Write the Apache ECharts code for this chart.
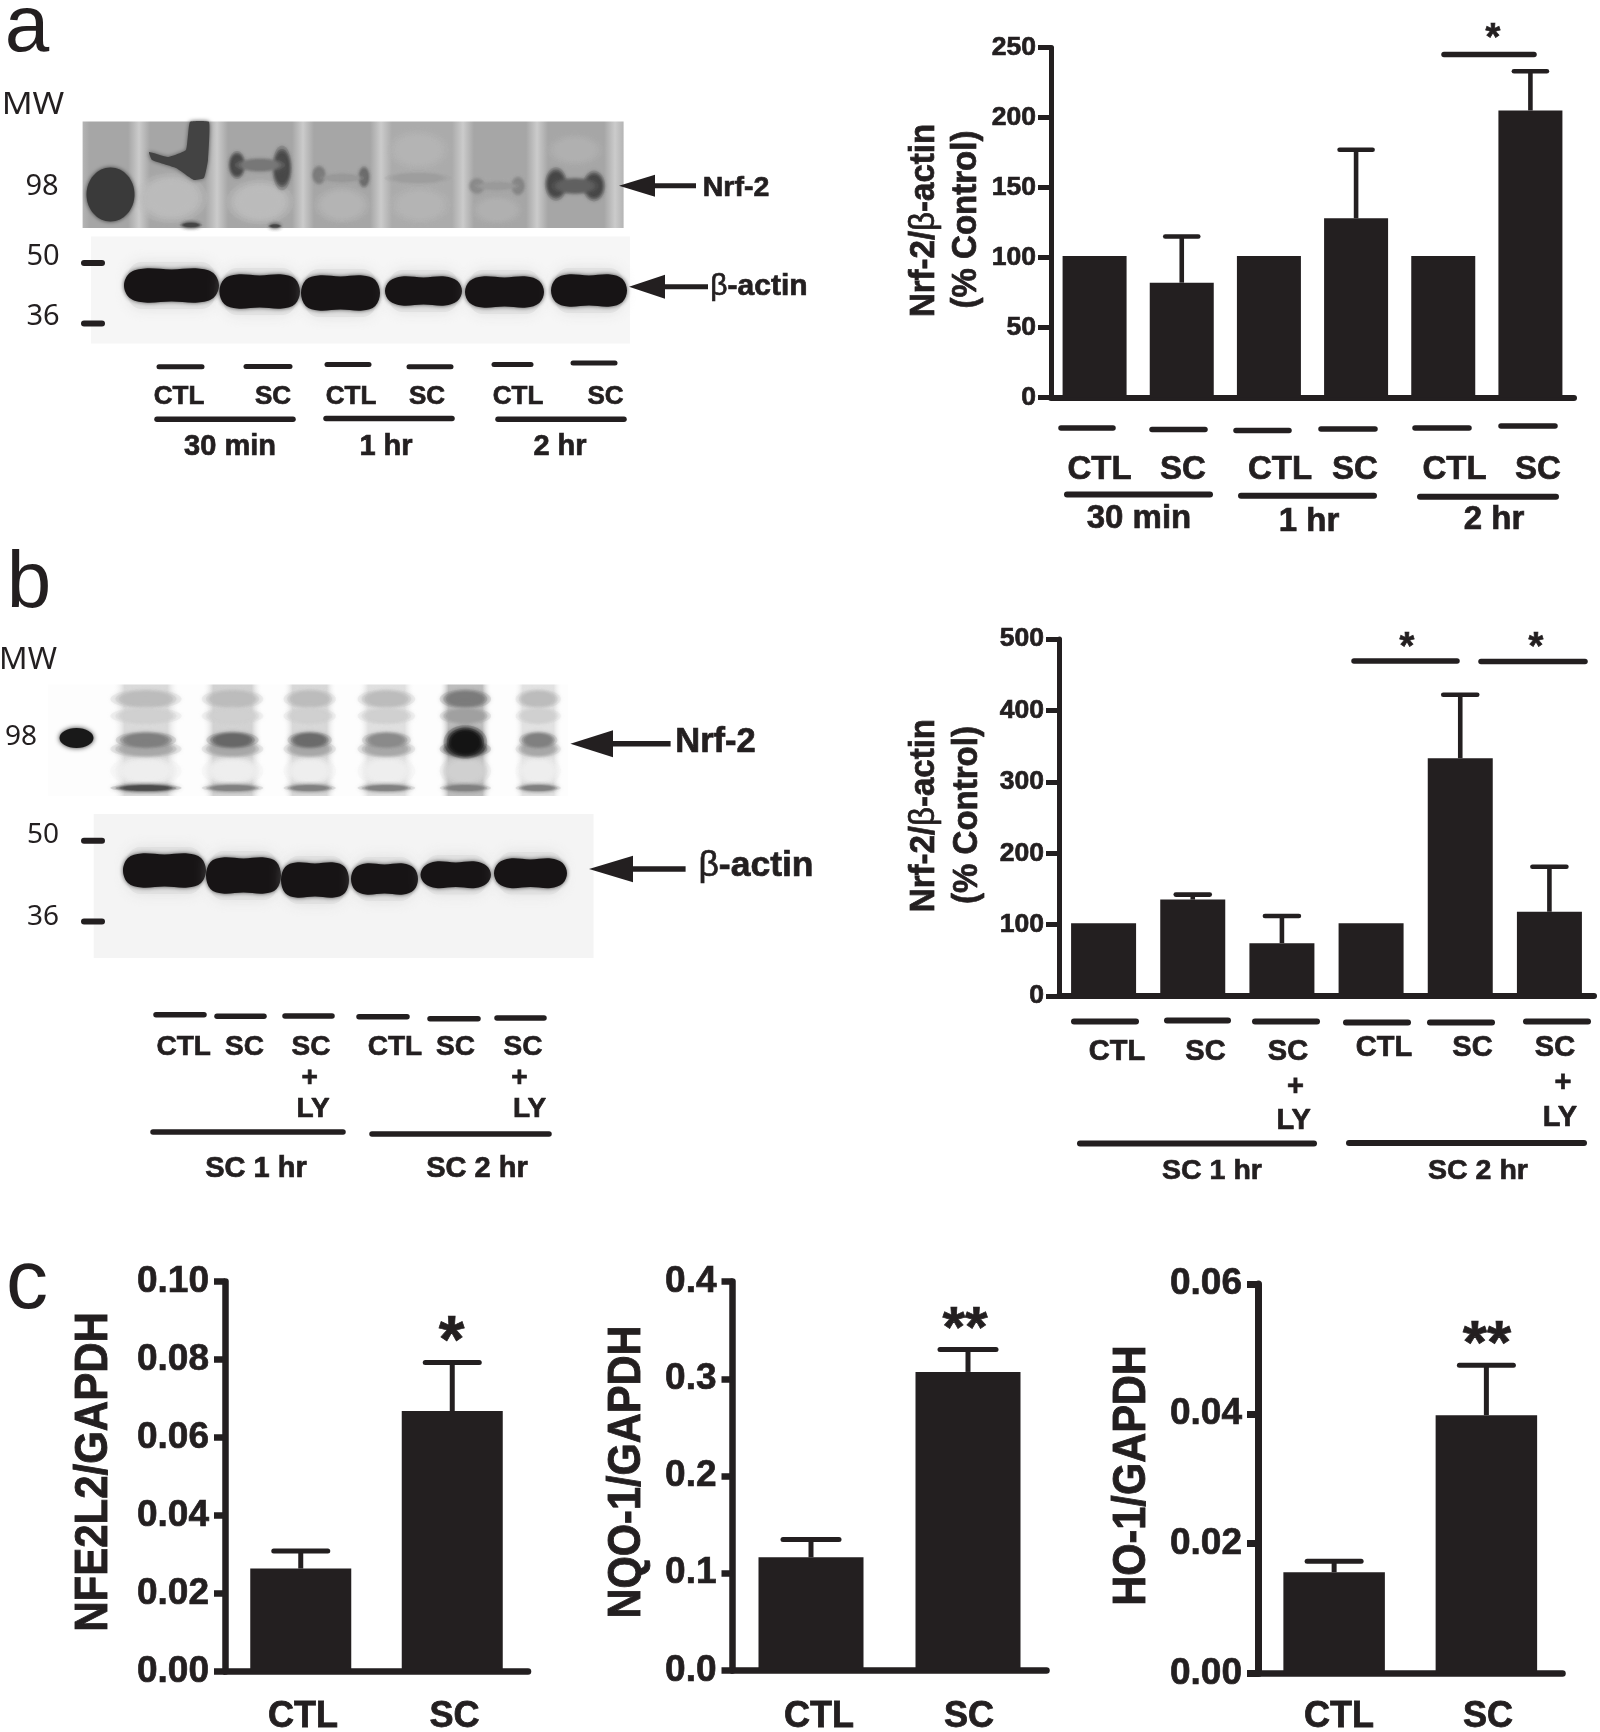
<!DOCTYPE html>
<html><head><meta charset="utf-8">
<style>html,body{margin:0;padding:0;background:#fff}#main{width:1600px;height:1732px}</style>
<script src="https://cdn.jsdelivr.net/npm/echarts@6/dist/echarts.min.js"></script>
</head><body><div id="main"></div>
<script>
// ---------- data ----------
const aCategories = ['CTL','SC','CTL','SC','CTL','SC'];
const aValues = [101,82,101,128,101,205];
const aUpper  = [null,115,null,177,null,233];
const aGroups = ['30 min','1 hr','2 hr'];
const bCategories = ['CTL','SC','SC+LY','CTL','SC','SC+LY'];
const bValues = [102,135,74,102,333,118];
const bUpper  = [null,142,112,null,422,181];
const bGroups = ['SC 1 hr','SC 2 hr'];
const cCategories = ['CTL','SC'];
const c1Values = [0.0264,0.0668];
const c1Upper  = [0.0309,0.0792];
const c2Values = [0.1164,0.307];
const c2Upper  = [0.1346,0.330];
const c3Values = [0.0156,0.0398];
const c3Upper  = [0.0173,0.0475];

// ---------- appearance ----------
const INK = '#231f20';
const BOLD = '"Liberation Sans", Arial, sans-serif';
const chart = echarts.init(document.getElementById('main'), null, {renderer:'canvas', width:1600, height:1732});

const panels = [
 {cats:aCategories, vals:aValues, up:aUpper, max:250, step:50, dec:0, left:1051, top:47.5, w:523, h:350, barW:64, capW:33, stem:4.6, axisW:5, xW:6, tickLen:13, xTick:11, xTickW:4, font:26.5, labelMargin:15},
 {cats:bCategories, vals:bValues, up:bUpper, max:500, step:100, dec:0, left:1059, top:639, w:535, h:357, barW:65, capW:34, stem:4.6, axisW:5, xW:6, tickLen:13, xTick:11, xTickW:4, font:26.5, labelMargin:15},
 {cats:cCategories, vals:c1Values, up:c1Upper, max:0.10, step:0.02, dec:2, left:225, top:1281.5, w:303, h:390, barW:101, capW:54, stem:5, axisW:6.5, xW:6.5, tickLen:11, xTick:10, xTickW:7, font:37, labelMargin:16},
 {cats:cCategories, vals:c2Values, up:c2Upper, max:0.4, step:0.1, dec:1, left:732.5, top:1281.5, w:314, h:389, barW:105, capW:56, stem:5, axisW:6.5, xW:6.5, tickLen:11, xTick:10, xTickW:7, font:37, labelMargin:16},
 {cats:cCategories, vals:c3Values, up:c3Upper, max:0.06, step:0.02, dec:2, left:1258, top:1284, w:304.5, h:389.5, barW:101.5, capW:54, stem:5, axisW:7, xW:6.5, tickLen:11, xTick:10, xTickW:7, font:37, labelMargin:16}
];

const grids=[],xAxes=[],yAxes=[],series=[];
panels.forEach((p,i)=>{
  grids.push({left:p.left,top:p.top,width:p.w,height:p.h,containLabel:false,outerBoundsMode:'none'});
  xAxes.push({gridIndex:i,type:'category',data:p.cats.map((c,k)=>k+':'+c),
    axisLine:{lineStyle:{color:INK,width:p.xW}},
    axisTick:{alignWithLabel:true,length:p.xTick,lineStyle:{color:INK,width:p.xTickW}},
    axisLabel:{show:false},
    splitLine:{show:false}});
  yAxes.push({gridIndex:i,type:'value',min:0,max:p.max,interval:p.step,
    axisLine:{show:true,lineStyle:{color:INK,width:p.axisW}},
    axisTick:{show:true,length:p.tickLen,lineStyle:{color:INK,width:p.axisW}},
    axisLabel:{margin:p.labelMargin,color:INK,fontFamily:BOLD,fontWeight:'bold',fontSize:p.font,textBorderColor:INK,textBorderWidth:.7,formatter:v=>Number(v).toFixed(p.dec)},
    splitLine:{show:false}});
  series.push({type:'bar',xAxisIndex:i,yAxisIndex:i,data:p.vals,barWidth:p.barW,itemStyle:{color:INK},silent:true,animation:false});
  series.push({type:'custom',xAxisIndex:i,yAxisIndex:i,silent:true,animation:false,clip:false,z:1,
    data:p.up.map((u,k)=>[k,p.vals[k],u]).filter(r=>r[2]!=null),
    encode:{x:0,y:[1,2]},
    renderItem:(params,api)=>{
      const a=api.coord([api.value(0),api.value(1)]), b=api.coord([api.value(0),api.value(2)]);
      const st={stroke:INK,lineWidth:p.stem}, cp={stroke:INK,lineWidth:p.stem,lineCap:'round'};
      return {type:'group',children:[
        {type:'line',shape:{x1:a[0],y1:a[1],x2:b[0],y2:b[1]},style:st},
        {type:'line',shape:{x1:b[0]-p.capW/2,y1:b[1],x2:b[0]+p.capW/2,y2:b[1]},style:cp}]};
    }});
});

// ---------- helpers for annotation ----------
const g=[];
const boldFont=s=>`bold ${s}px ${BOLD}`;
function txt(text,x,y,size,o={}){
  const bold=!o.font;
  g.push({type:'text',x:x,y:o.rot?y:y+(o.dy==null?2:o.dy),rotation:o.rot||0,scaleX:o.sx||1,scaleY:o.sy||1,silent:true,
    style:{text,font:o.font||boldFont(size),fill:o.fill||INK,align:'center',verticalAlign:'middle',rich:o.rich,
      stroke:bold?INK:null,lineWidth:bold?(o.sw==null?.7:o.sw):0}});
}
function line(x1,x2,y,w){g.push({type:'line',silent:true,shape:{x1,y1:y,x2,y2:y},style:{stroke:INK,lineWidth:w,lineCap:'round'}});}
function soft(cx,cy,rx,ry,fill){
  [[1.4,.2],[1.2,.3],[1.05,.5],[.9,.8]].forEach(l=>{
    g.push({type:'ellipse',silent:true,shape:{cx,cy,rx:rx*l[0],ry:ry*l[0]},style:{fill,opacity:l[1],shadowBlur:4,shadowColor:fill}});
  });
}
function band(x1,x2,y1,y2){
  const w=x2-x1,ym=(y1+y2)/2;
  const pts=[[x1,ym],[x1+w*.06,y1+5],[x1+w*.22,y1+.5],[x1+w*.5,y1+1.5],[x2-w*.22,y1+.5],[x2-w*.06,y1+5],[x2,ym],[x2-w*.06,y2-5],[x2-w*.22,y2-.5],[x1+w*.5,y2-1.5],[x1+w*.22,y2-.5],[x1+w*.06,y2-5]];
  g.push({type:'rect',silent:true,shape:{x:x1+4,y:y1-6,width:w-8,height:y2-y1+12,r:14},style:{fill:'#d8d8d8',opacity:.5,shadowBlur:14,shadowColor:'#ccc'}});
  g.push({type:'polygon',silent:true,shape:{points:pts,smooth:.35},style:{fill:'#171415',shadowBlur:4,shadowColor:'rgba(40,40,40,.8)'}});
}
function arrow(tip,base,end,y,half,w){
  g.push({type:'polygon',silent:true,shape:{points:[[tip,y],[base,y-half],[base,y+half]]},style:{fill:INK}});
  g.push({type:'line',silent:true,shape:{x1:base-1,y1:y,x2:end,y2:y},style:{stroke:INK,lineWidth:w}});
}
function hGradient(x0,x1,pts){
  return {type:'linear',x:0,y:0,x2:1,y2:0,colorStops:pts.map(p=>({offset:(p[0]-x0)/(x1-x0),color:p[1]}))};
}
const sans='"Noto Sans", sans-serif';
const reg=s=>`${s}px ${sans}`;
const beta=(size)=>({a:{font:boldFont(size),fill:INK,stroke:INK,lineWidth:.7},b:{font:`${size}px ${BOLD}`,fill:INK}});
const betaText='{a|Nrf-2/}{b|β}{a|-actin}';

// panel letters
[['a',27,27,80],['b',29,583,80],['c',27,1283,84]].forEach(r=>txt(r[0],r[1],r[2],r[3],{font:`${r[3]}px ${BOLD}`}));

// ---------- blot a, Nrf-2 ----------
const D='#a6a6a6',L='#cbcbcb';
g.push({type:'rect',silent:true,shape:{x:82.6,y:121.4,width:541,height:106.6},style:{fill:hGradient(82.6,623.6,
 [[82.6,'#b4b4b4'],[90,D],[128,D],[139,L],[150,D],[205,D],[217,L],[228,D],[292,D],[303,L],[314,D],[370,D],[381,L],[392,'#ababab'],[452,'#ababab'],[463,L],[474,D],[526,D],[537,L],[548,D],[604,D],[615,L],[623.6,'#b4b4b4']])}});
soft(171,198,26,18,'#bcbcbc');soft(260,202,24,16,'#bcbcbc');soft(342,205,20,13,'#b4b4b4');soft(418,150,22,14,'#b4b4b4');soft(420,205,22,13,'#b4b4b4');
soft(497,210,18,10,'#b0b0b0');soft(575,150,20,11,'#b0b0b0');
// dark smear in lane 2: a column from the top edge with an arm running left
g.push({type:'polygon',silent:true,shape:{points:[[149,152],[168,157],[186,150],[190,122],[209,122],[208,160],[204,178],[194,180],[176,168],[152,160]],smooth:.12},style:{fill:'#434343',shadowBlur:4,shadowColor:'#555'}});
g.push({type:'ellipse',silent:true,shape:{cx:110.5,cy:194.5,rx:24,ry:27},style:{fill:'#3a3a3a',shadowBlur:4,shadowColor:'#3a3a3a'}});
soft(191,225,8,2,'#444');soft(275,226,5,1.5,'#444');
soft(237,165,6,10,'#474747');soft(282,168,7,16,'#474747');soft(260,165,18,5,'#777');
soft(319,175,5,7,'#7a7a7a');soft(364,177,4,8,'#6a6a6a');soft(342,178,16,3,'#989898');
soft(418,178,24,4,'#9e9e9e');
soft(477,186,6,6,'#8a8a8a');soft(518,186,5,7,'#848484');soft(497,186,16,3,'#9a9a9a');
soft(556,184,8,12,'#454545');soft(594,186,8,11,'#454545');soft(575,186,17,6,'#606060');

// ---------- blot a, actin ----------
g.push({type:'rect',silent:true,shape:{x:91,y:236.4,width:539,height:107.2},style:{fill:'#f6f6f6'}});
[[124,219,268,303],[219.4,300,274,309],[301,380,275,311],[385,462,276,306],[465,544,276,308],[551,627,274,307]].forEach(b=>band(...b));
[[263],[323.6]].forEach(r=>line(84,102,r[0],6));

// ---------- blot b, Nrf-2 ----------
g.push({type:'rect',silent:true,shape:{x:48,y:684.5,width:520,height:111.5},style:{fill:'#fdfdfd'}});
const lanes=[[112.5,179.4],[202.5,262.5],[283,336.4],[357.8,415],[439,491.7],[514,562.4]];
const laneDark=['#7e7e7e','#666','#6a6a6a','#8a8a8a','#111','#808080'];
const laneBack=['#dadada','#d2d2d2','#d8d8d8','#e0e0e0','#bdbdbd','#e2e2e2'];
lanes.forEach((l,i)=>{
  g.push({type:'rect',silent:true,shape:{x:l[0],y:684.5,width:l[1]-l[0],height:111.5},
    style:{fill:{type:'linear',x:0,y:0,x2:1,y2:0,colorStops:[{offset:0,color:'rgba(255,255,255,0)'},{offset:.18,color:laneBack[i]},{offset:.82,color:laneBack[i]},{offset:1,color:'rgba(255,255,255,0)'}]}}});
  const cx=(l[0]+l[1])/2, rx=(l[1]-l[0])/2-8;
  soft(cx,699,rx,7,i===4?'#7a7a7a':'#bcbcbc');
  soft(cx,716,rx,6,i===4?'#a0a0a0':'#cfcfcf');
  soft(cx,771,rx,11,i===4?'#d0d0d0':'#ededed');
  soft(cx,749,rx,6,i===4?'#555':'#a8a8a8');
  if(i===4){soft(cx,742,rx*.85,12,'#141414');}
  else{soft(cx,740,rx*.85,6,laneDark[i]);}
  soft(cx,788,rx,2.6,i===0?'#4a4a4a':'#808080');
});
g.push({type:'ellipse',silent:true,shape:{cx:76.5,cy:738,rx:17,ry:10},style:{fill:'#191919',shadowBlur:5,shadowColor:'#333'}});

// ---------- blot b, actin ----------
g.push({type:'rect',silent:true,shape:{x:93.7,y:814,width:499.8,height:144},style:{fill:'#f4f4f4'}});
[[123,206,853,888],[206,281,857,894],[281,349,862,898],[351,418,863,895],[420.5,491,861,888.6],[494,567,858,888.6]].forEach(b=>band(...b));
[[840.8],[921.6]].forEach(r=>line(84,102,r[0],6));

// ---------- western-blot labels, panel a ----------
const dashesALeft=[[157,204,366.8],[244,292,366.4],[325,371,364.6],[407,453,366.8],[492,533,364.6],[571,617,363]];
dashesALeft.forEach(d=>line(d[0]+2,d[1]-2,d[2],5));
const catALeftX=[179,273,351,427,518,605.5];
aCategories.forEach((c,i)=>txt(c,catALeftX[i],394.5,26));
[[157,293,419.3],[326,452,418.6],[498,624,419.3]].forEach(d=>line(d[0],d[1],d[2],5.5));
[[230,445],[386,445],[560,445]].forEach((p,i)=>txt(aGroups[i],p[0],p[1],29));
txt('MW',33,103,31,{font:reg(31),sx:1.1});
txt('98',42,185,29,{font:reg(29)});
txt('50',43,255,29,{font:reg(29)});
txt('36',43,315,29,{font:reg(29)});
arrow(619,655,696,185.7,11,5);
txt('Nrf-2',736,186,28.5);
arrow(629,665,708,286.8,12,5);
txt('{b|β}{a|-actin}',759,285,30,{rich:beta(30)});

// ---------- chart a annotations ----------
const dashesARight=[[1059,1115,428],[1150,1207,429.6],[1234,1291,430.4],[1319,1377,429],[1413,1471,428],[1499,1557,426]];
dashesARight.forEach(d=>line(d[0]+2,d[1]-2,d[2],5.5));
const catARightX=[1099.6,1183,1280,1355,1454.6,1538];
aCategories.forEach((c,i)=>txt(c,catARightX[i],467.5,33));
[[1067,1210,494.6],[1241,1374,495.7],[1420,1556,496.8]].forEach(d=>line(d[0],d[1],d[2],6));
[[1139,517],[1309,520],[1494,518]].forEach((p,i)=>txt(aGroups[i],p[0],p[1],33));
line(1444,1534,54.6,5.5);
txt('*',1493,38,38);
txt(betaText,924,220.5,33,{rot:Math.PI/2,rich:beta(33),sy:1.05});
txt('(% Control)',966,219.5,33,{rot:Math.PI/2,sy:1.05});

// ---------- western-blot labels, panel b ----------
[[154,206,1014.7],[215,266,1016.3],[283,334,1016],[357,409,1016.7],[428,480,1018.8],[495,546,1018]].forEach(d=>line(d[0]+2,d[1]-2,d[2],5.5));
const stack=(name,x,y,xP,yP,xL,yL,s)=>{
  if(name==='SC+LY'){txt('SC',x,y,s);txt('+',xP,yP,s);txt('LY',xL,yL,s);} else txt(name,x,y,s);
};
const bLeftPos=[[183.7,1045],[244.5,1045],[311,1045,309.6,1076,313,1107],[395,1045],[455.5,1045],[523,1045,519.5,1076,529.5,1107]];
bCategories.forEach((c,i)=>{const p=bLeftPos[i];stack(c,p[0],p[1],p[2],p[3],p[4],p[5],28);});
[[153,343,1132],[372,549,1134]].forEach(d=>line(d[0],d[1],d[2],5.5));
[[256,1167],[477,1167]].forEach((p,i)=>txt(bGroups[i],p[0],p[1],29));
txt('MW',28,658,30,{font:reg(30),sx:1.05});
txt('98',21,735,28,{font:reg(28)});
txt('50',43,833,28,{font:reg(28)});
txt('36',43,915,28,{font:reg(28)});
arrow(570.4,613,670.6,743.7,13.5,5.5);
txt('Nrf-2',715.5,740,34.5);
arrow(589,633,685.6,869,13.3,5.5);
txt('{b|β}{a|-actin}',756,864,35.5,{rich:beta(35.5)});

// ---------- chart b annotations ----------
[[1072,1138,1021.4],[1165,1230,1020.6],[1253,1319,1021.4],[1344,1410,1022.5],[1428,1494,1022.5],[1524,1590,1021.4]].forEach(d=>line(d[0]+2,d[1]-2,d[2],6));
const bRightPos=[[1117,1049.7],[1205.5,1049.7],[1288,1049.7,1295.5,1085,1293.7,1118.6],[1384,1046],[1472.5,1046],[1555,1046,1563,1081.4,1560,1115.5]];
bCategories.forEach((c,i)=>{const p=bRightPos[i];stack(c,p[0],p[1],p[2],p[3],p[4],p[5],29);});
[[1080,1314,1143.4],[1349,1584,1143]].forEach(d=>line(d[0],d[1],d[2],6));
[[1212,1169.5],[1478,1168.7]].forEach((p,i)=>txt(bGroups[i],p[0],p[1],28.5));
line(1354,1457,661,5.5);line(1481,1585,661.6,5.5);
txt('*',1407,647,38);txt('*',1536,647,38);
txt(betaText,924,815.6,33,{rot:Math.PI/2,rich:beta(33),sy:1.05});
txt('(% Control)',967,815,33,{rot:Math.PI/2,sy:1.05});

// ---------- panel c annotations ----------
txt('NFE2L2/GAPDH',94,1472,42,{rot:Math.PI/2,sy:1.12,sw:.8});
txt('NQO-1/GAPDH',627,1472,41.5,{rot:Math.PI/2,sy:1.12,sw:.8});
txt('HO-1/GAPDH',1132,1475.5,41.5,{rot:Math.PI/2,sy:1.12,sw:.8});
txt('*',451.5,1342,66);
txt('**',965,1329,58);
txt('**',1487,1344,62);
const cLabelX=[[303,454.5],[819,969],[1339,1488]];
cLabelX.forEach(xs=>cCategories.forEach((c,i)=>txt(c,xs[i],1717,36,{dy:0,sw:.8})));

chart.setOption({animation:false,backgroundColor:'#fff',grid:grids,xAxis:xAxes,yAxis:yAxes,series,graphic:{elements:g}});
</script></body></html>
